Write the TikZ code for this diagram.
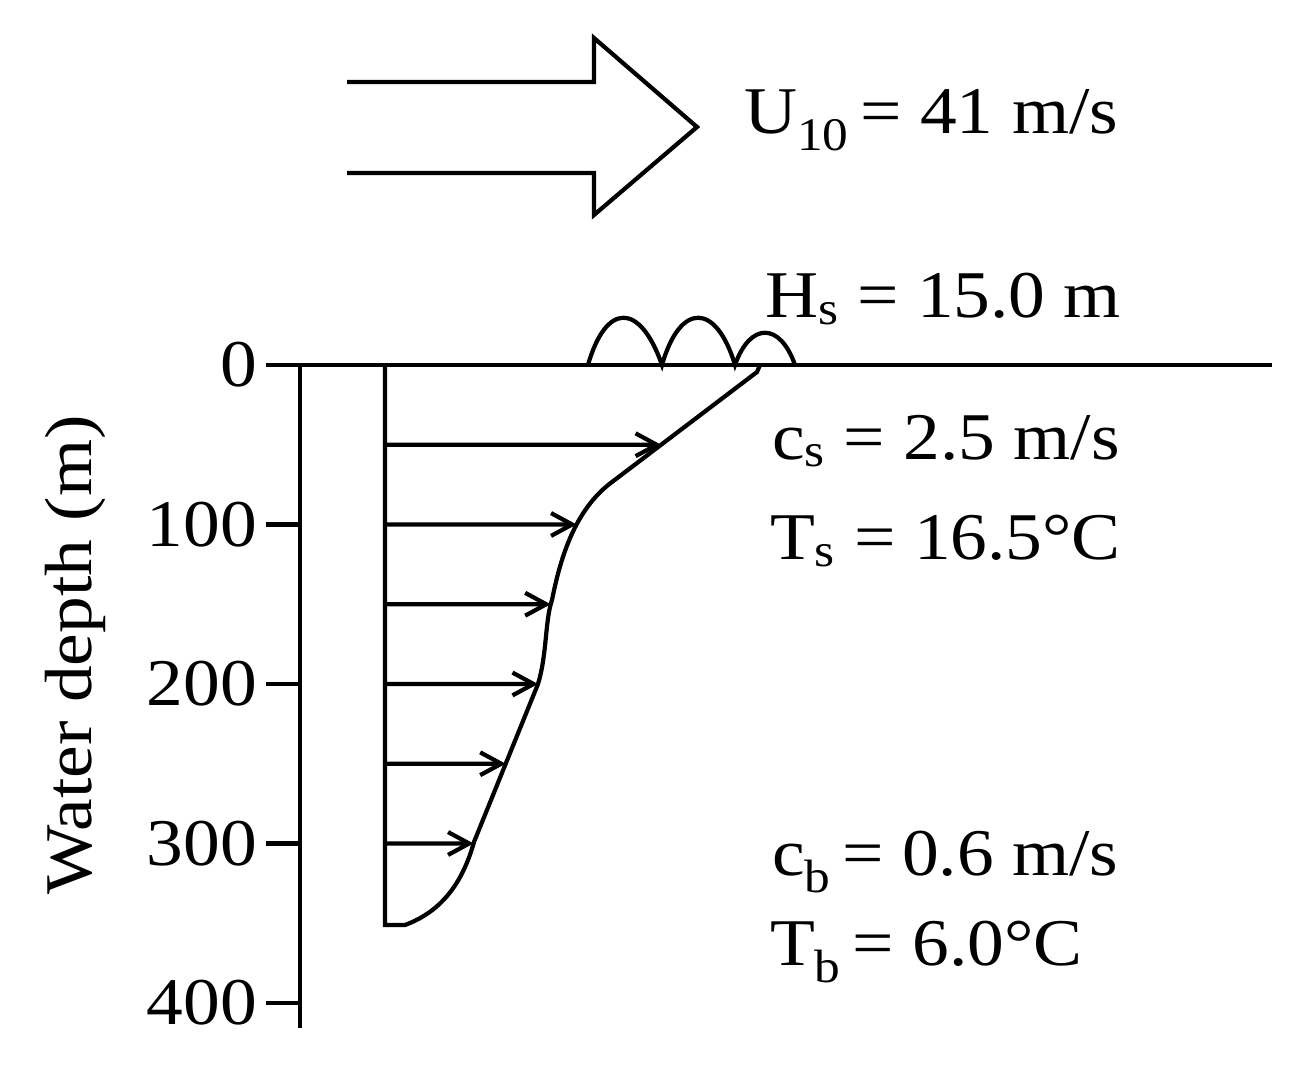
\documentclass[tikz,border=0pt]{standalone}
\usepackage{fontspec}
\setmainfont{Liberation Serif}[FakeStretch=1.1]
\usetikzlibrary{arrows.meta,intersections}
\tikzset{%
  every node/.style={font=\fontsize{38}{42}\selectfont, inner sep=0pt},
  flow/.style={-{Straight Barb[length=12pt,width=13pt]}},
  value/.style={anchor=base west},
  depthlabel/.style={anchor=east, inner sep=4pt}
}

\begin{document}
\begin{tikzpicture}[x=0.02cm, y=-0.02cm, line width=2.4pt, line join=miter]
  \useasboundingbox (0,0) rectangle (1312,1070);

  % wind
  \draw (347,82) -- (594,82) -- (594,38) -- (697,127) -- (594,215) -- (594,173) -- (347,173);
  \node[value] (wind) at (742,134) {U\textsubscript{10}\,= 41 m/s};

  % surface and waves
  \draw (266,365) -- (1272,365);
  \draw (588,365) .. controls (606,302) and (640,302) .. (662,365)
        .. controls (680,302) and (716,302) .. (735,365)
        .. controls (750,322) and (780,322) .. (795,365);
  \node[value] (hs) at (763,318) {H\textsubscript{s} = 15.0 m};

  % depth axis
  \draw (300,365) -- (300,1028);
  \node[depthlabel] (d0) at (266,365) {0};
  \foreach \d in {100,200,300,400} {
    \coordinate (t\d) at (300,{365+1.595*\d});
    \draw (266,{365+1.595*\d}) -- (t\d);
    \node[depthlabel] (d\d) at (266,{365+1.595*\d}) {\d};
  }
  \node[rotate=90] (ylab) at (75,655) {Water depth (m)};

  % current profile
  \draw[name path=profile] (385,365) -- (385,925) -- (405,925)
        .. controls (440,912) and (462,885) .. (474,842) -- (538,684)
        .. controls (547,655) and (545,620) .. (552,600)
        .. controls (560,560) and (574,510) .. (612,482)
        -- (757,372) -- (760,365);
  \foreach \d in {50,100,...,300} {
    \coordinate (s\d) at (385,{365+1.595*\d});
    \path[name path=lvl] (395,{365+1.595*\d}) -- (900,{365+1.595*\d});
    \path[name intersections={of=profile and lvl, by=h\d}];
    \draw[flow] (s\d) -- (h\d);
  }

  \node[value] (cs) at (770,460) {c\textsubscript{s} = 2.5 m/s};
  \node[value] (ts) at (768,560) {T\textsubscript{s} = 16.5°C};
  \node[value] (cb) at (770,875) {c\textsubscript{b}\,= 0.6 m/s};
  \node[value] (tb) at (768,965) {T\textsubscript{b}\,= 6.0°C};
\end{tikzpicture}
\end{document}
